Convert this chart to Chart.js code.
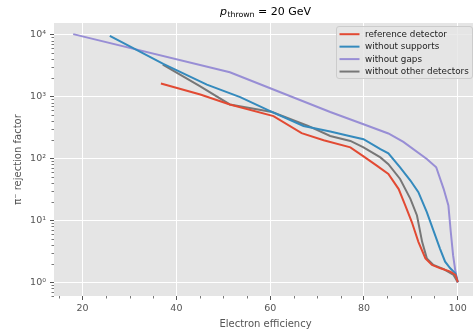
<!DOCTYPE html>
<html><head><meta charset="utf-8">
<script src="https://cdn.jsdelivr.net/npm/chart.js@4.4.0/dist/chart.umd.min.js"></script>
<style>html,body{margin:0;padding:0;overflow:hidden;background:#fff;width:473px;height:331px}</style>
</head><body>
<canvas id="c" width="480" height="331" style="display:block;width:480px;height:331px"></canvas>
<script>
// ---- data ----
const seriesNames = ['reference detector', 'without supports', 'without gaps', 'without other detectors'];
const seriesColors = ['#E24A33', '#348ABD', '#988ED5', '#777777'];

const effRef = [36.7, 45.1, 51.4, 60.7, 66.7, 71.4, 77.1, 79.9, 82.8, 85.2, 87.4, 88.8, 90.2, 91.6, 93.1, 94.5, 96.3, 98.4, 99.5, 100];
const rejRef = [1620, 1080, 746, 484, 256, 197, 151, 108, 76, 56, 32, 17.4, 9.4, 4.5, 2.43, 1.90, 1.68, 1.49, 1.31, 1.0];

const effSup = [25.8, 37.2, 46.5, 53.6, 60.0, 67.1, 72.8, 77.1, 79.9, 83.5, 85.2, 87.7, 89.9, 91.6, 93.4, 94.8, 96.2, 97.3, 98.4, 99.5, 100];
const rejSup = [9550, 3360, 1560, 980, 583, 335, 272, 229, 205, 142, 121, 72, 44, 28.6, 13.6, 6.9, 3.5, 2.15, 1.68, 1.39, 1.0];

const effGap = [18.0, 51.4, 72.8, 79.9, 85.2, 88.4, 93.4, 95.4, 97.0, 98.0, 98.5, 99.0, 99.5, 100];
const rejGap = [10200, 2465, 562, 357, 253, 185, 98, 72, 32, 17.4, 6.6, 2.74, 1.49, 1.0];

const effOth = [37.1, 45.0, 51.4, 60.4, 68.1, 72.8, 77.1, 79.9, 83.5, 85.2, 87.7, 89.9, 91.3, 92.4, 93.4, 94.8, 97.0, 99.1, 100];
const rejOth = [3275, 1470, 746, 562, 335, 231, 192, 151, 104, 81, 46.7, 22.3, 12.0, 4.5, 2.43, 1.90, 1.63, 1.31, 1.0];

const xTicks = [20, 40, 60, 80, 100];
const xMinorTicks = [15, 25, 30, 35, 45, 50, 55, 65, 70, 75, 85, 90, 95];
const yTicks = [1, 10, 100, 1000, 10000];
const supDigits = ['⁰', '¹', '²', '³', '⁴'];

const xs = [effRef, effSup, effGap, effOth];
const ys = [rejRef, rejSup, rejGap, rejOth];

const FONT = 'DejaVu Sans';

const decor = {
  id: 'decor',
  beforeDraw(chart) {
    const {ctx, chartArea: a} = chart;
    ctx.save();
    ctx.fillStyle = '#ffffff';
    ctx.fillRect(0, 0, chart.width, chart.height);
    ctx.fillStyle = '#E5E5E5';
    ctx.fillRect(a.left, a.top, a.right - a.left, a.bottom - a.top);
    ctx.restore();
  },
  afterDraw(chart) {
    const {ctx, chartArea: a, scales} = chart;
    const sx = scales.x, sy = scales.y;
    ctx.save();
    // minor ticks
    ctx.strokeStyle = '#555555';
    ctx.lineWidth = 0.8;
    ctx.beginPath();
    xMinorTicks.forEach(v => {
      const p = Math.round(sx.getPixelForValue(v)) + 0.5;
      ctx.moveTo(p, a.bottom); ctx.lineTo(p, a.bottom + 2.5);
    });
    for (let k = -1; k <= 4; k++) {
      for (let m = 2; m <= 9; m++) {
        const v = m * Math.pow(10, k);
        if (v < sy.min || v > sy.max) continue;
        const p = Math.round(sy.getPixelForValue(v)) + 0.5;
        ctx.moveTo(a.left - 2.5, p); ctx.lineTo(a.left, p);
      }
    }
    ctx.stroke();

    // title
    const cx = (a.left + a.right) / 2;
    const by = 14.5;
    const f1 = 'italic 11px "' + FONT + '"';
    const f2 = '7.8px "' + FONT + '"';
    const f3 = '11px "' + FONT + '"';
    ctx.fillStyle = '#000000';
    ctx.textBaseline = 'alphabetic';
    ctx.font = f1; const w1 = ctx.measureText('p').width;
    ctx.font = f2; const w2 = ctx.measureText('thrown').width;
    ctx.font = f3; const w3 = ctx.measureText(' = 20 GeV').width;
    let x0 = cx - (w1 + w2 + w3 + 0.5) / 2;
    ctx.textAlign = 'left';
    ctx.font = f1; ctx.fillText('p', x0, by); x0 += w1 + 0.5;
    ctx.font = f2; ctx.fillText('thrown', x0, by + 2.5); x0 += w2;
    ctx.font = f3; ctx.fillText(' = 20 GeV', x0, by);

    // axis titles
    ctx.fillStyle = '#555555';
    ctx.font = '10px "' + FONT + '"';
    ctx.textAlign = 'center';
    ctx.textBaseline = 'middle';
    ctx.fillText('Electron efficiency', cx, 324);
    ctx.save();
    ctx.translate(18, (a.top + a.bottom) / 2);
    ctx.rotate(-Math.PI / 2);
    ctx.fillText('π⁻ rejection factor', 0, 0);
    ctx.restore();

    // legend
    const lx = 336.5, ly = 26.5, lw = 136, lh = 52;
    ctx.beginPath();
    ctx.roundRect(lx, ly, lw, lh, 2.5);
    ctx.fillStyle = 'rgba(229,229,229,0.8)';
    ctx.fill();
    ctx.strokeStyle = '#CCCCCC';
    ctx.lineWidth = 1;
    ctx.stroke();
    ctx.font = '8.8px "' + FONT + '"';
    ctx.textAlign = 'left';
    ctx.textBaseline = 'middle';
    seriesNames.forEach((n, i) => {
      const yy = 34.2 + i * 12.45;
      ctx.strokeStyle = seriesColors[i];
      ctx.lineWidth = 2;
      ctx.beginPath();
      ctx.moveTo(339.5, yy); ctx.lineTo(359.5, yy);
      ctx.stroke();
      ctx.fillStyle = '#222222';
      ctx.fillText(n, 365, yy + 0.5);
    });
    ctx.restore();
  }
};

new Chart(document.getElementById('c'), {
  type: 'line',
  data: {
    datasets: seriesNames.map((n, i) => ({
      label: n,
      data: xs[i].map((x, j) => ({x: x, y: ys[i][j]})),
      borderColor: seriesColors[i],
      backgroundColor: seriesColors[i],
      borderWidth: 2,
      pointRadius: 0,
      tension: 0,
      fill: false
    }))
  },
  options: {
    responsive: false,
    animation: false,
    devicePixelRatio: 1,
    layout: {padding: {left: 0, top: 23, right: 3, bottom: 0}},
    plugins: {legend: {display: false}, title: {display: false}, tooltip: {enabled: false}},
    scales: {
      x: {
        type: 'linear',
        min: 13.9, max: 104.1,
        afterBuildTicks: s => { s.ticks = xTicks.map(v => ({value: v})); },
        afterFit: s => { s.height = 35; },
        border: {display: false},
        grid: {color: '#FFFFFF', lineWidth: 1, tickColor: '#555555', tickLength: 4},
        ticks: {color: '#555555', font: {family: FONT, size: 9.5}, padding: 3, maxRotation: 0, autoSkip: false}
      },
      y: {
        type: 'logarithmic',
        min: 0.641, max: 15420,
        afterBuildTicks: s => { s.ticks = yTicks.map(v => ({value: v})); },
        afterFit: s => { s.width = 54; },
        border: {display: false},
        grid: {color: '#FFFFFF', lineWidth: 1, tickColor: '#555555', tickLength: 4},
        ticks: {
          color: '#555555', font: {family: FONT, size: 9.5}, padding: 4, autoSkip: false,
          callback: v => '10' + supDigits[Math.round(Math.log10(v))]
        }
      }
    }
  },
  plugins: [decor]
});
</script>
</body></html>
